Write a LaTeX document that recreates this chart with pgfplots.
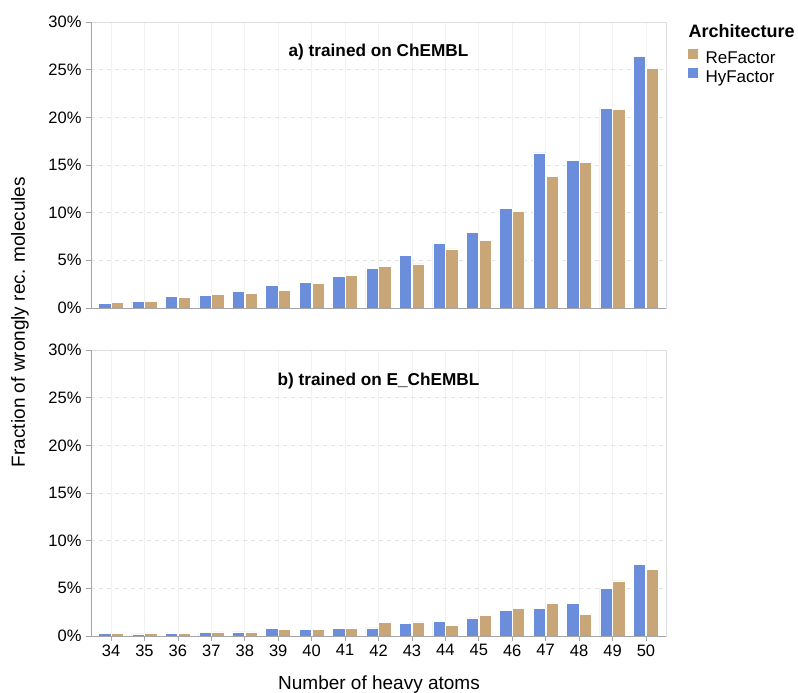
\documentclass[border=0pt]{standalone}
\usepackage{fontspec}
\setmainfont{Liberation Sans}
\usepackage{pgfplots}
\usepackage{pgfplotstable}
\pgfplotsset{compat=1.18}

\definecolor{hyblue}{RGB}{106,142,219}
\definecolor{retan}{RGB}{201,166,120}
\definecolor{domaingray}{RGB}{165,165,165}
\definecolor{boxgray}{RGB}{221,221,221}
\definecolor{hgrid}{RGB}{226,226,226}
\definecolor{vgrid}{RGB}{241,241,241}

\newcommand{\ticksize}{\fontsize{16.5bp}{19bp}\selectfont}
\newcommand{\labelsize}{\fontsize{19bp}{22bp}\selectfont}
\newcommand{\panelsize}{\fontsize{17.2bp}{20bp}\selectfont\bfseries}
\newcommand{\legtitlesize}{\fontsize{18bp}{21bp}\selectfont\bfseries}
\newcommand{\legsize}{\fontsize{17bp}{20bp}\selectfont}

% fraction (in %) of wrongly reconstructed molecules per heavy-atom count
\pgfplotstableread{
idx atoms hy    re
0   34    0.49  0.56
1   35    0.70  0.73
2   36    1.19  1.12
3   37    1.33  1.40
4   38    1.75  1.50
5   39    2.34  1.85
6   40    2.69  2.59
7   41    3.32  3.46
8   42    4.16  4.33
9   43    5.52  4.62
10  44    6.78  6.19
11  45    7.90  7.13
12  46    10.45 10.14
13  47    16.26 13.81
14  48    15.52 15.28
15  49    20.94 20.84
16  50    26.43 25.14
}\chembl

\pgfplotstableread{
idx atoms hy    re
0   34    0.28  0.28
1   35    0.21  0.24
2   36    0.31  0.24
3   37    0.38  0.42
4   38    0.42  0.42
5   39    0.77  0.70
6   40    0.66  0.73
7   41    0.77  0.77
8   42    0.84  1.45
9   43    1.29  1.47
10  44    1.54  1.12
11  45    1.89  2.20
12  46    2.69  2.90
13  47    2.90  3.43
14  48    3.43  2.27
15  49    5.03  5.77
16  50    7.55  7.00
}\echembl

\pgfplotsset{
  panel/.style={
    scale only axis, width=575bp, height=286bp,
    xmin=-0.6, xmax=16.6, ymin=0, ymax=30,
    xtick={0,...,16}, ytick={0,5,...,30},
    yticklabel={\pgfmathprintnumber{\tick}\%},
    /pgf/number format/assume math mode=true,
    tick pos=left, tick align=outside,
    major tick length=5bp,
    tick style={domaingray, line width=0.8bp},
    axis line style={draw=boxgray, line width=0.8bp},
    xmajorgrids, ymajorgrids,
    x grid style={vgrid, line width=0.8bp},
    y grid style={hgrid, line width=0.8bp, dash pattern=on 4bp off 4bp},
    ticklabel style={font=\ticksize},
    yticklabel style={xshift=-1bp},
    ybar, bar width=0.37,
    every axis plot/.append style={draw=white, line width=0.6bp},
    after end axis/.code={
      \draw[domaingray, line width=0.8bp]
        (rel axis cs:0,1) -- (rel axis cs:0,0) -- (rel axis cs:1,0);
    },
  },
}

\begin{document}
\begin{tikzpicture}
\useasboundingbox (0,0) rectangle (798bp,693bp);

% a) trained on ChEMBL
\begin{axis}[panel, at={(91bp,385bp)}, anchor=south west,
  xticklabels={}, xtick style={draw=none},
  legend cell align=left,
  legend style={at={(1.038,0.905)}, anchor=north west, draw=none, fill=none,
    inner sep=0pt, font=\legsize, row sep=2bp, column sep=6bp,
    nodes={inner sep=1.5bp}},
  legend image code/.code={\path[#1, draw=none] (0bp,-1bp) rectangle (10bp,9bp);},
]
\addplot[fill=retan, bar shift=0.19] table[x=idx, y=re] {\chembl};
\addlegendentry{ReFactor}
\addplot[fill=hyblue, bar shift=-0.19] table[x=idx, y=hy] {\chembl};
\addlegendentry{HyFactor}
\node[font=\panelsize, anchor=base] at (rel axis cs:0.5,1) [yshift=-35bp] {a) trained on ChEMBL};
\end{axis}

% b) trained on E_ChEMBL
\begin{axis}[panel, at={(91bp,57bp)}, anchor=south west,
  xticklabels={34,35,36,37,38,39,40,41,42,43,44,45,46,47,48,49,50},
]
\addplot[fill=retan, bar shift=0.19] table[x=idx, y=re] {\echembl};
\addplot[fill=hyblue, bar shift=-0.19] table[x=idx, y=hy] {\echembl};
\node[font=\panelsize, anchor=base] at (rel axis cs:0.5,1) [yshift=-35bp] {b) trained on E\_ChEMBL};
\end{axis}

\node[font=\legtitlesize, anchor=base west] at (685bp,655.7bp) {Architecture};
\node[font=\labelsize, rotate=90] at (20bp,371bp) {Fraction of wrongly rec. molecules};
\node[font=\labelsize, anchor=base] at (379bp,4bp) {Number of heavy atoms};
\end{tikzpicture}
\end{document}
